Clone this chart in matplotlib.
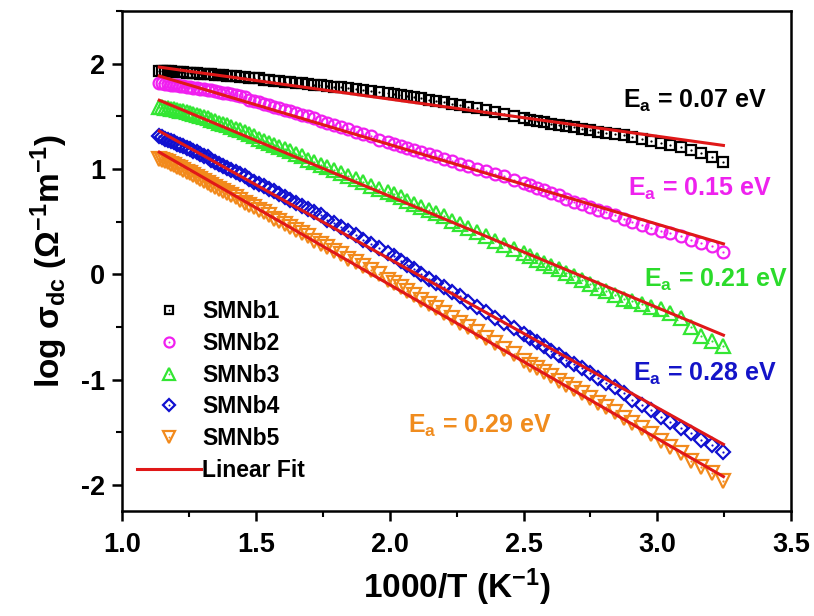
import numpy as np
import matplotlib
matplotlib.use("Agg")
import matplotlib.pyplot as plt
from matplotlib.ticker import MultipleLocator, FormatStrFormatter
from matplotlib.legend_handler import HandlerTuple

plt.rcParams['font.family'] = ['Liberation Sans', 'DejaVu Sans']
plt.rcParams['font.weight'] = 'bold'
plt.rcParams['axes.unicode_minus'] = False
plt.rcParams['mathtext.fontset'] = 'custom'
plt.rcParams['mathtext.rm'] = 'Liberation Sans:bold'
plt.rcParams['mathtext.it'] = 'Liberation Sans:bold'
plt.rcParams['mathtext.bf'] = 'Liberation Sans:bold'
plt.rcParams['mathtext.sf'] = 'Liberation Sans:bold'

# measurement temperatures (K); plotted as 1000/T
temp_K = [308, 312, 316, 320, 324, 328, 332, 336, 340, 344, 348, 352, 356, 360, 364, 368,
          372, 376, 380, 384, 388, 392, 396, 400, 406, 412, 418, 424, 430, 436, 442, 448,
          454, 460, 466, 472, 478, 484, 490, 496, 502, 510, 518, 526, 534, 542, 550, 558,
          566, 574, 582, 590, 598, 606, 614, 622, 630, 638, 646, 654, 662, 670, 678, 686,
          694, 702, 710, 718, 726, 734, 742, 750, 758, 766, 774, 782, 790, 798, 806, 814,
          822, 830, 838, 846, 854, 862, 870, 878]

smnb1 = [1.07, 1.11, 1.15, 1.18, 1.21, 1.23, 1.25, 1.27, 1.29, 1.30, 1.32, 1.33, 1.34, 1.35, 1.37, 1.38,
         1.40, 1.41, 1.42, 1.43, 1.45, 1.46, 1.47, 1.48, 1.50, 1.52, 1.54, 1.56, 1.58, 1.59, 1.61, 1.62,
         1.64, 1.65, 1.66, 1.67, 1.68, 1.69, 1.70, 1.71, 1.72, 1.73, 1.74, 1.75, 1.76, 1.77, 1.78, 1.78,
         1.79, 1.80, 1.80, 1.81, 1.82, 1.82, 1.83, 1.83, 1.84, 1.84, 1.85, 1.85, 1.86, 1.86, 1.86, 1.87,
         1.87, 1.88, 1.88, 1.88, 1.89, 1.89, 1.89, 1.90, 1.90, 1.90, 1.90, 1.91, 1.91, 1.91, 1.91, 1.92,
         1.92, 1.92, 1.92, 1.93, 1.93, 1.93, 1.93, 1.93]
smnb2 = [0.21, 0.27, 0.30, 0.33, 0.36, 0.39, 0.41, 0.44, 0.47, 0.50, 0.53, 0.56, 0.59, 0.61, 0.64, 0.67,
         0.69, 0.72, 0.75, 0.77, 0.80, 0.82, 0.85, 0.87, 0.90, 0.93, 0.95, 0.98, 1.00, 1.03, 1.05, 1.08,
         1.10, 1.12, 1.14, 1.16, 1.18, 1.20, 1.22, 1.24, 1.26, 1.28, 1.31, 1.33, 1.35, 1.38, 1.40, 1.42,
         1.44, 1.46, 1.48, 1.50, 1.51, 1.53, 1.55, 1.56, 1.58, 1.59, 1.61, 1.62, 1.64, 1.65, 1.66, 1.68,
         1.69, 1.70, 1.71, 1.72, 1.72, 1.73, 1.74, 1.75, 1.75, 1.76, 1.76, 1.77, 1.77, 1.78, 1.78, 1.79,
         1.79, 1.80, 1.80, 1.80, 1.81, 1.81, 1.82, 1.82]
smnb3 = [-0.68, -0.63, -0.59, -0.50, -0.41, -0.37, -0.33, -0.31, -0.28, -0.25, -0.23, -0.20, -0.16, -0.13, -0.09, -0.05,
         -0.02, 0.01, 0.05, 0.08, 0.11, 0.14, 0.17, 0.20, 0.24, 0.28, 0.32, 0.36, 0.40, 0.44, 0.48, 0.51,
         0.55, 0.58, 0.61, 0.64, 0.67, 0.70, 0.73, 0.76, 0.78, 0.81, 0.84, 0.88, 0.91, 0.93, 0.96, 0.99,
         1.02, 1.04, 1.07, 1.09, 1.12, 1.14, 1.17, 1.19, 1.21, 1.23, 1.25, 1.27, 1.29, 1.31, 1.33, 1.35,
         1.37, 1.38, 1.40, 1.42, 1.43, 1.44, 1.46, 1.47, 1.48, 1.49, 1.50, 1.51, 1.52, 1.53, 1.54, 1.55,
         1.55, 1.56, 1.57, 1.57, 1.58, 1.58, 1.59, 1.59]
smnb4 = [-1.69, -1.62, -1.57, -1.51, -1.46, -1.40, -1.35, -1.29, -1.24, -1.19, -1.13, -1.07, -1.03, -0.98, -0.94, -0.89,
         -0.85, -0.81, -0.77, -0.73, -0.68, -0.64, -0.60, -0.57, -0.51, -0.46, -0.41, -0.36, -0.31, -0.26, -0.21, -0.17,
         -0.12, -0.08, -0.04, 0.00, 0.05, 0.09, 0.13, 0.17, 0.20, 0.25, 0.29, 0.33, 0.37, 0.41, 0.45, 0.49,
         0.52, 0.56, 0.59, 0.62, 0.65, 0.68, 0.71, 0.73, 0.76, 0.79, 0.81, 0.84, 0.86, 0.88, 0.91, 0.93,
         0.95, 0.97, 0.99, 1.01, 1.03, 1.05, 1.07, 1.09, 1.11, 1.12, 1.14, 1.16, 1.17, 1.19, 1.20, 1.22,
         1.23, 1.24, 1.26, 1.27, 1.28, 1.29, 1.30, 1.31]
smnb5 = [-1.96, -1.89, -1.83, -1.77, -1.70, -1.64, -1.58, -1.52, -1.46, -1.41, -1.36, -1.31, -1.26, -1.22, -1.17, -1.13,
         -1.09, -1.05, -1.01, -0.97, -0.93, -0.89, -0.86, -0.82, -0.76, -0.71, -0.65, -0.60, -0.55, -0.50, -0.46, -0.41,
         -0.37, -0.32, -0.28, -0.24, -0.20, -0.16, -0.12, -0.08, -0.05, 0.00, 0.04, 0.08, 0.12, 0.15, 0.19, 0.22,
         0.26, 0.29, 0.32, 0.36, 0.39, 0.42, 0.45, 0.48, 0.51, 0.53, 0.56, 0.59, 0.61, 0.64, 0.66, 0.68,
         0.71, 0.73, 0.75, 0.77, 0.79, 0.81, 0.83, 0.85, 0.87, 0.89, 0.91, 0.92, 0.94, 0.96, 0.97, 0.99,
         1.01, 1.02, 1.04, 1.05, 1.07, 1.08, 1.09, 1.10]

labels = ['SMNb1', 'SMNb2', 'SMNb3', 'SMNb4', 'SMNb5']
colors = ['#000000', '#F020F0', '#33E633', '#1010D0', '#F28A1C']
text_colors = ['#000000', '#EE22EE', '#2BDB2B', '#1414C8', '#F08C1E']
markers = ['s', 'o', '^', 'D', 'v']
msizes = [7.5, 8.5, 9.5, 7.5, 9.5]
ea_eV = [0.07, 0.15, 0.21, 0.28, 0.29]
ea_pos = [(2.87, 1.65), (2.89, 0.81), (2.95, -0.05), (2.91, -0.95), (2.07, -1.44)]

k_B = 8.617e-5  # eV/K
x = 1000.0 / np.array(temp_K)
series = [smnb1, smnb2, smnb3, smnb4, smnb5]

fig = plt.figure(figsize=(8.14, 6.16), dpi=100)
ax = fig.add_axes([0.150, 0.170, 0.822, 0.812])

handles = []
for y, c, m, ms in zip(series, colors, markers, msizes):
    h1, = ax.plot(x, y, ls='none', marker=m, ms=ms, mfc='none', mec=c, mew=1.6)
    h2, = ax.plot(x, y, ls='none', marker='o', ms=1.6, mfc=c, mec=c, mew=0)
    handles.append((h1, h2))

# Arrhenius fit: slope from Ea, intercept by least squares
fit_h = None
for y, ea in zip(series, ea_eV):
    y = np.array(y)
    slope = -ea / (k_B * 1000 * np.log(10))
    b = np.mean(y - slope * x)
    xf = np.array([x.min(), x.max()])
    fit_h, = ax.plot(xf, slope * xf + b, color='#E01818', lw=2.2, zorder=5)

for (tx, ty), ea, c in zip(ea_pos, ea_eV, text_colors):
    ax.text(tx, ty, r'E$_\mathregular{a}$ = %.2f eV' % ea, color=c, fontsize=18,
            fontweight='bold', ha='left', va='center')

leg = ax.legend(handles + [fit_h], labels + ['Linear Fit'],
                handler_map={tuple: HandlerTuple(ndivide=1)},
                loc='upper left', bbox_to_anchor=(0.005, 0.445), frameon=False,
                fontsize=16.5, markerscale=0.85, handlelength=2.8, handletextpad=0.05,
                labelspacing=0.38, borderpad=0, numpoints=1)

ax.set_xlim(1.0, 3.5)
ax.set_ylim(-2.25, 2.5)
ax.xaxis.set_major_locator(MultipleLocator(0.5))
ax.xaxis.set_minor_locator(MultipleLocator(0.25))
ax.yaxis.set_major_locator(MultipleLocator(1))
ax.yaxis.set_minor_locator(MultipleLocator(0.5))
ax.xaxis.set_major_formatter(FormatStrFormatter('%.1f'))
ax.tick_params(which='major', direction='out', length=7, width=1.8, labelsize=19.5)
ax.tick_params(axis='x', which='major', pad=8)
ax.tick_params(axis='y', which='major', pad=5)
ax.tick_params(which='minor', direction='out', length=4, width=1.5)
for sp in ax.spines.values():
    sp.set_linewidth(1.8)

ax.set_xlabel(r'1000/T (K$^{-1}$)', fontsize=24, fontweight='bold', labelpad=6)
ax.set_ylabel(r'log $\sigma_{dc}$ ($\Omega^{-1}$m$^{-1}$)', fontsize=24, fontweight='bold', labelpad=8)

fig.savefig('out.png', dpi=100)
